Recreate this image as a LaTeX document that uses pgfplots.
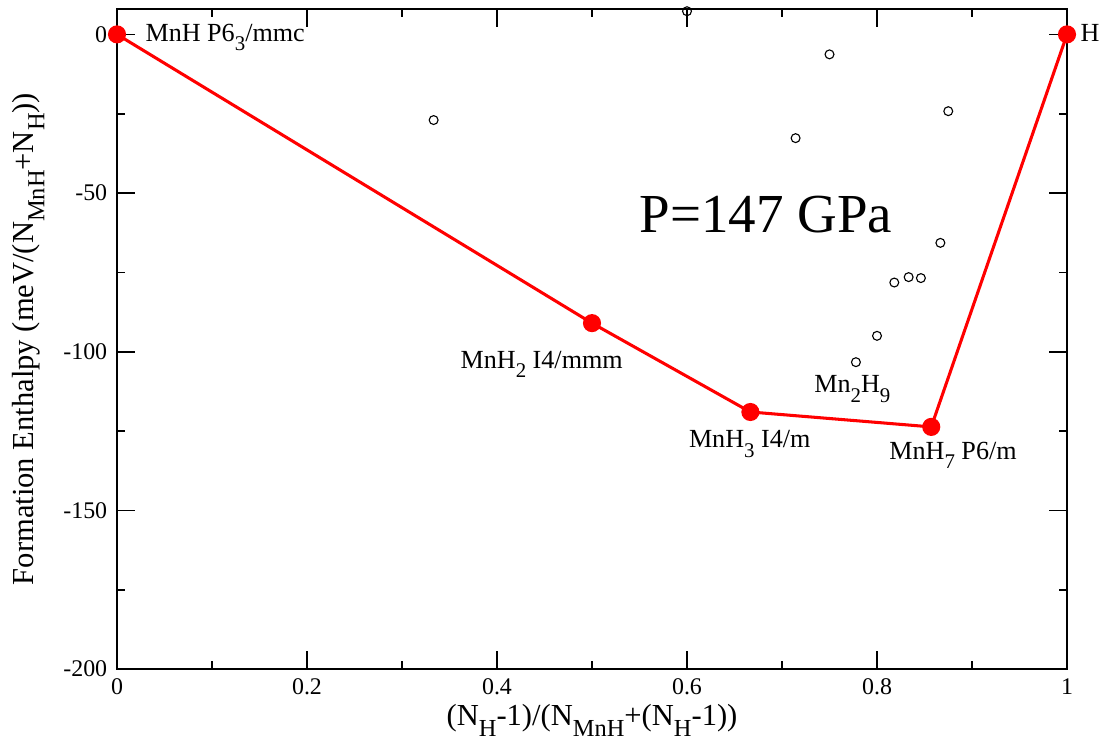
\documentclass[border=0pt]{standalone}
\usepackage{fontspec}
\setmainfont{Liberation Serif}
\usepackage{graphicx}
\usepackage{pgfplots}
\pgfplotsset{compat=1.18}

% xmgrace-like subscript: large and well lowered
\newcommand{\sub}[1]{\raisebox{-0.36em}{\scalebox{0.8}{#1}}}

\begin{document}
\begin{tikzpicture}
\begin{axis}[
  scale only axis, width=342pt, height=237.6pt,
  xmin=0, xmax=1, ymin=-200, ymax=8,
  xtick={0,0.2,0.4,0.6,0.8,1}, ytick={-200,-150,-100,-50,0},
  minor x tick num=1, minor y tick num=1,
  tick align=inside, major tick length=6.5pt, minor tick length=3pt,
  axis line style={line width=0.7pt},
  every tick/.style={line width=0.6pt, black},
  /pgf/number format/assume math mode=true,
  tick label style={font=\fontsize{8.6}{10}\selectfont},
  xlabel={(N\sub{H}-1)/(N\sub{MnH}+(N\sub{H}-1))},
  ylabel={Formation Enthalpy (meV/(N\sub{MnH}+N\sub{H}))},
  label style={font=\fontsize{11}{13}\selectfont},
  xlabel style={yshift=3.5pt},
  clip=false,
]
% convex hull
\addplot[red, line width=1.1pt, mark=*, mark size=2.7pt,
  mark options={fill=red, draw=red}] coordinates
  {(0,0) (0.5,-91) (0.6667,-119) (0.8571,-123.7) (1,0)};
% other structures
\addplot[only marks, mark=o, mark size=1.6pt, mark options={line width=0.4pt, black}] coordinates
  {(0.3333,-27) (0.6,7.3) (0.75,-6.3) (0.7143,-32.7) (0.875,-24.2)
   (0.8667,-65.7) (0.8182,-78.2) (0.8333,-76.5) (0.8462,-76.8)
   (0.8,-95) (0.7778,-103.3)};

\begin{scope}[every node/.style={inner sep=0pt, font=\fontsize{9.4}{11}\selectfont}]
\node[anchor=base west] at (axis cs:0.0295,-2.1) {MnH P6\sub{3}/mmc};
\node[anchor=base west] at (axis cs:1.0137,-2.1) {H};
\node[anchor=base] at (axis cs:0.447,-105.3) {MnH\sub{2} I4/mmm};
\node[anchor=base] at (axis cs:0.666,-130.3) {MnH\sub{3} I4/m};
\node[anchor=base] at (axis cs:0.774,-112.9) {Mn\sub{2}H\sub{9}};
\node[anchor=base] at (axis cs:0.88,-133.9) {MnH\sub{7} P6/m};
\end{scope}
\node[anchor=base, inner sep=0pt, font=\fontsize{19.8}{22}\selectfont]
  at (axis cs:0.683,-62.5) {P=147 GPa};
\end{axis}
\pgfresetboundingbox
\path[use as bounding box] (current axis.south west) ++(-42.12pt,-27.36pt) rectangle ++(397.8pt,268.2pt);
\end{tikzpicture}
\end{document}
